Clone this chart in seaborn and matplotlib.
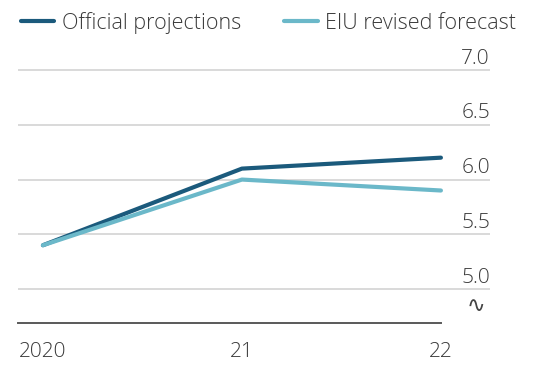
import pandas as pd
import matplotlib.pyplot as plt
import matplotlib.transforms as mtransforms
import seaborn as sns

years = [2020, 2021, 2022]
year_labels = ['2020', '21', '22']
official = [5.4, 6.1, 6.2]
eiu = [5.4, 6.0, 5.9]
series_names = ['Official projections', 'EIU revised forecast']
colors = ['#1b5a7c', '#6bb8c9']
y_ticks = [5.0, 5.5, 6.0, 6.5, 7.0]

df = pd.DataFrame({
    'year': years * 2,
    'value': official + eiu,
    'series': [series_names[0]] * 3 + [series_names[1]] * 3,
})

sns.set_style('white')
plt.rcParams['font.family'] = ['Open Sans', 'DejaVu Sans']
plt.rcParams['font.weight'] = 'light'

fig = plt.figure(figsize=(5.41, 3.67), dpi=100)
ax = fig.add_axes([0.033, 0.12, 0.8725, 0.692])

sns.lineplot(data=df, x='year', y='value', hue='series', palette=colors,
             linewidth=3, ax=ax, legend=False, zorder=3)

ax.set_xlim(2019.874, 2022.246)
ax.set_ylim(4.69, 7.01)
ax.set_xticks(years)
ax.set_xticklabels(year_labels)
ax.set_yticks(y_ticks)
ax.set_yticklabels([f'{v:.1f}' for v in y_ticks])
ax.yaxis.tick_right()
ax.grid(axis='y', color='#d9d9d9', linewidth=1.4)
ax.set_xlabel('')
ax.set_ylabel('')

for side in ['top', 'left', 'right']:
    ax.spines[side].set_visible(False)
ax.spines['bottom'].set_color('#595959')
ax.spines['bottom'].set_linewidth(1.4)
ax.spines['bottom'].set_bounds(2019.874, 2022)

ax.tick_params(axis='x', length=6, width=1.2, color='#595959', labelsize=15,
               labelcolor='#3a3a3a', pad=8)
ax.tick_params(axis='y', length=0, labelsize=15, labelcolor='#3a3a3a', pad=0)
offset = mtransforms.ScaledTranslation(0, 1 / 72, fig.dpi_scale_trans)
for lab in ax.get_yticklabels():
    lab.set_horizontalalignment('right')
    lab.set_verticalalignment('bottom')
    lab.set_transform(lab.get_transform() + offset)

# axis break marker
ax.text(0.99, 0.065, '∿', transform=ax.transAxes, ha='right', va='center',
        fontsize=16, fontweight='normal', color='#444444', family=['DejaVu Sans'])

handles = [plt.Line2D([], [], color=c, linewidth=3) for c in colors]
fig.legend(handles, series_names, loc='upper left', bbox_to_anchor=(0.003, 1.02),
           ncol=2, frameon=False, fontsize=15.5, handlelength=1.55,
           handletextpad=0.35, columnspacing=2.0, labelcolor='#3a3a3a')

fig.savefig('out.png', dpi=100)
